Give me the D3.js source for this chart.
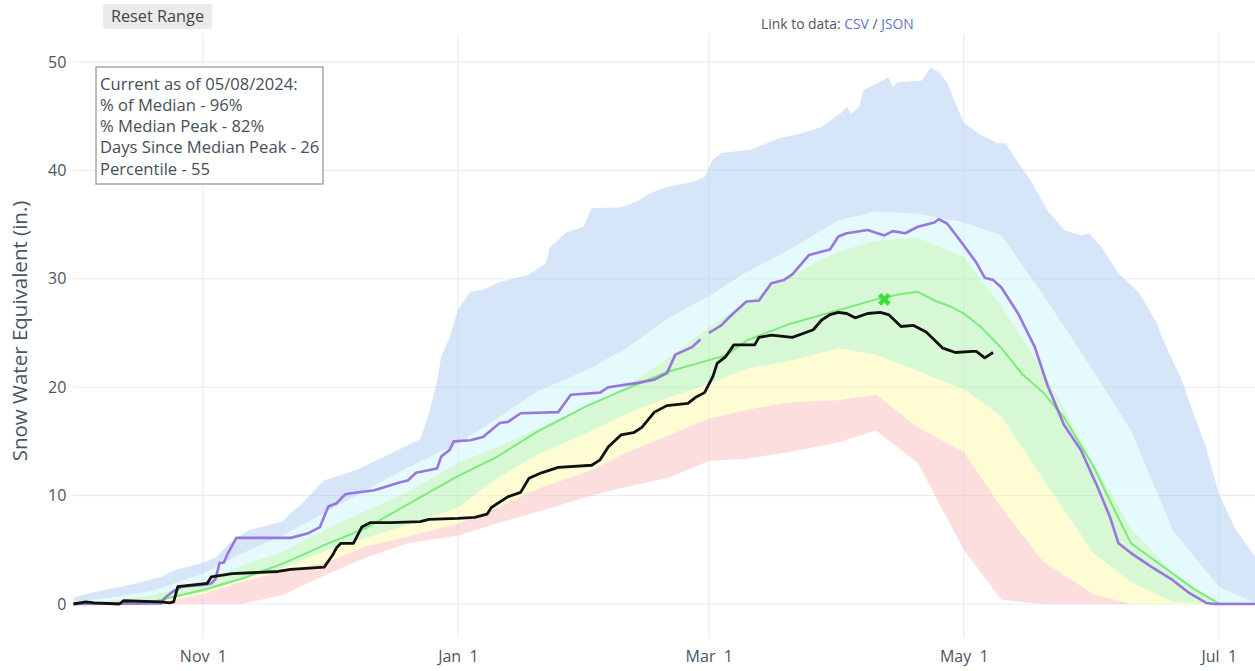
<!DOCTYPE html>
<html><head><meta charset="utf-8">
<script src="https://cdn.jsdelivr.net/npm/d3@7"></script>
<style>
body{margin:0;background:#fff;}
svg{display:block;font-family:"Open Sans",sans-serif;}
</style></head><body>
<svg id="chart" width="1255" height="671"></svg>
<script>
// ---------- DATA ----------
const bandDates = ["2023-10-01","2023-10-10","2023-10-20","2023-11-01","2023-11-10","2023-11-20","2023-12-01","2023-12-10","2023-12-20","2024-01-01","2024-01-10","2024-01-20","2024-02-01","2024-02-10","2024-02-20","2024-03-01","2024-03-10","2024-03-20","2024-04-01","2024-04-10","2024-04-20","2024-05-01","2024-05-10","2024-05-20","2024-06-01","2024-06-10","2024-06-20","2024-07-01","2024-07-10"];
const minValues = [0,0,0,0,0,0.8,2.8,4.3,5.6,6.3,7.4,8.5,9.9,10.8,11.6,13.2,13.4,14.0,14.9,16.0,13.0,5.0,0.4,0,0,0,0,0,0];
const p10Values = [0,0,0,0.9,2.0,3.0,3.9,5.3,6.2,7.4,8.8,10.6,12.2,13.9,15.5,17.1,17.9,18.6,18.8,19.3,16.3,14.0,8.9,3.9,0.9,0,0,0,0];
const p30Values = [0,0.1,0.2,1.1,2.2,3.3,5.0,6.1,7.3,8.9,11.5,13.8,15.8,17.5,19.0,20.3,21.7,22.4,23.6,23.0,21.5,19.8,17.3,11.5,4.7,2.0,0.2,0,0];
const p70Values = [0.1,0.3,0.8,1.9,3.5,4.8,7.0,8.6,10.3,13.0,14.4,16.2,18.2,20.0,22.6,25.5,27.8,30.2,32.5,33.5,33.8,32.0,27.5,21.5,13.0,7.0,2.8,0.1,0];
const p90Values = [0.2,0.6,1.2,2.8,4.6,6.3,8.6,10.5,12.6,14.8,17.0,19.6,21.6,23.5,26.3,28.4,30.6,32.6,35.4,36.2,36.0,35.2,34.0,28.5,21.5,16.0,6.8,1.6,0];

const maxDates = ["2023-10-01","2023-10-06","2023-10-14","2023-10-22","2023-10-25","2023-11-01","2023-11-04","2023-11-08","2023-11-12","2023-11-20","2023-11-22","2023-11-24","2023-11-30","2023-12-08","2023-12-16","2023-12-23","2023-12-25","2023-12-27","2023-12-28","2023-12-30","2024-01-01","2024-01-04","2024-01-07","2024-01-11","2024-01-18","2024-01-22","2024-01-23","2024-01-27","2024-01-31","2024-02-02","2024-02-09","2024-02-12","2024-02-16","2024-02-20","2024-02-26","2024-02-29","2024-03-02","2024-03-04","2024-03-11","2024-03-18","2024-03-23","2024-03-28","2024-04-02","2024-04-03","2024-04-04","2024-04-06","2024-04-07","2024-04-13","2024-04-14","2024-04-15","2024-04-21","2024-04-23","2024-04-25","2024-04-27","2024-04-29","2024-05-01","2024-05-05","2024-05-09","2024-05-11","2024-05-14","2024-05-17","2024-05-21","2024-05-25","2024-05-29","2024-05-31","2024-06-03","2024-06-07","2024-06-12","2024-06-16","2024-06-19","2024-06-22","2024-06-25","2024-06-28","2024-07-01","2024-07-05","2024-07-10"];
const maxValues = [0.6,1.1,1.7,2.5,3.1,3.8,4.3,5.8,6.8,7.6,8.4,9.0,11.4,12.4,13.9,15.2,17.5,20.5,22.8,24.6,27.2,28.8,29.0,29.7,30.4,31.4,32.9,34.3,34.8,36.5,36.6,37.0,37.9,38.5,38.9,39.4,41.0,41.6,41.9,43.0,43.4,44.0,45.4,45.9,45.2,45.9,47.4,48.6,47.7,48.1,48.3,49.5,49.1,48.1,46.2,44.4,43.3,42.5,42.5,40.7,39.1,36.3,34.5,34.0,34.2,32.9,30.5,28.7,26.0,23.2,20.8,17.5,14.4,10.2,6.9,4.2];

const medianDates = ["2023-10-01","2023-10-10","2023-10-20","2023-11-01","2023-11-10","2023-11-20","2023-12-01","2023-12-10","2023-12-20","2024-01-01","2024-01-10","2024-01-20","2024-02-01","2024-02-10","2024-02-20","2024-03-01","2024-03-05","2024-03-10","2024-03-20","2024-04-01","2024-04-10","2024-04-16","2024-04-20","2024-04-24","2024-04-28","2024-05-01","2024-05-05","2024-05-10","2024-05-15","2024-05-20","2024-05-25","2024-06-01","2024-06-05","2024-06-10","2024-06-15","2024-06-20","2024-06-25","2024-07-01","2024-07-10"];
const medianValues = [0,0.05,0.2,1.3,2.3,3.7,5.6,7.0,9.2,11.8,13.5,15.9,18.3,19.8,21.4,22.5,22.9,24.3,25.8,27.1,28.1,28.6,28.8,28.0,27.4,26.8,25.6,23.6,21.2,19.5,17.2,12.7,9.5,5.6,4.2,2.8,1.4,0.05,0];

const wy2024Dates = ["2023-10-01","2023-10-04","2023-10-06","2023-10-12","2023-10-13","2023-10-22","2023-10-24","2023-10-25","2023-10-26","2023-11-02","2023-11-03","2023-11-08","2023-11-19","2023-11-22","2023-11-30","2023-12-02","2023-12-03","2023-12-04","2023-12-07","2023-12-09","2023-12-11","2023-12-16","2023-12-23","2023-12-25","2024-01-01","2024-01-05","2024-01-08","2024-01-09","2024-01-13","2024-01-16","2024-01-18","2024-01-21","2024-01-25","2024-02-02","2024-02-04","2024-02-06","2024-02-09","2024-02-12","2024-02-14","2024-02-17","2024-02-20","2024-02-25","2024-02-27","2024-02-29","2024-03-02","2024-03-03","2024-03-05","2024-03-07","2024-03-12","2024-03-13","2024-03-16","2024-03-21","2024-03-26","2024-03-28","2024-03-30","2024-04-01","2024-04-03","2024-04-05","2024-04-08","2024-04-11","2024-04-13","2024-04-16","2024-04-19","2024-04-22","2024-04-26","2024-04-29","2024-05-03","2024-05-04","2024-05-06","2024-05-08"];
const wy2024Values = [0,0.2,0.1,0,0.3,0.2,0.1,0.2,1.6,1.9,2.5,2.8,3.0,3.2,3.4,4.5,5.2,5.6,5.6,7.1,7.5,7.5,7.6,7.8,7.9,8.0,8.3,8.9,9.9,10.3,11.6,12.1,12.6,12.8,13.3,14.5,15.6,15.8,16.3,17.7,18.3,18.5,19.1,19.5,21.0,22.2,22.8,23.9,23.9,24.6,24.8,24.6,25.3,26.2,26.7,26.9,26.8,26.4,26.8,26.9,26.7,25.6,25.7,25.1,23.6,23.2,23.3,23.3,22.7,23.2];

const purpleDates = ["2023-10-01","2023-10-22","2023-10-23","2023-10-25","2023-10-27","2023-11-02","2023-11-03","2023-11-04","2023-11-05","2023-11-06","2023-11-07","2023-11-09","2023-11-22","2023-11-26","2023-11-29","2023-12-01","2023-12-03","2023-12-05","2023-12-06","2023-12-12","2023-12-18","2023-12-20","2023-12-22","2023-12-27","2023-12-28","2023-12-30","2023-12-31","2024-01-04","2024-01-07","2024-01-11","2024-01-13","2024-01-16","2024-01-25","2024-01-28","2024-02-04","2024-02-06","2024-02-13","2024-02-17","2024-02-20","2024-02-22","2024-02-26","2024-02-28","2024-02-29","2024-03-01","2024-03-04","2024-03-06","2024-03-10","2024-03-13","2024-03-16","2024-03-19","2024-03-21","2024-03-25","2024-03-30","2024-04-01","2024-04-03","2024-04-08","2024-04-12","2024-04-14","2024-04-17","2024-04-20","2024-04-24","2024-04-25","2024-04-27","2024-04-30","2024-05-04","2024-05-06","2024-05-08","2024-05-10","2024-05-14","2024-05-18","2024-05-21","2024-05-25","2024-05-29","2024-06-02","2024-06-05","2024-06-07","2024-06-10","2024-06-15","2024-06-20","2024-06-24","2024-06-28","2024-06-30","2024-07-10"];
const purpleValues = [0,0.05,0.6,1.2,1.6,1.8,1.9,2.3,3.8,3.8,4.7,6.1,6.1,6.5,7.1,9.0,9.3,10.1,10.2,10.5,11.2,11.4,12.1,12.5,13.6,14.2,15.0,15.1,15.4,16.7,16.8,17.6,17.7,19.3,19.5,20.0,20.4,20.7,21.3,23.0,23.7,24.4,null,25.0,25.7,26.5,27.9,28.0,29.6,29.9,30.4,32.2,32.7,33.9,34.2,34.5,34.0,34.4,34.2,34.8,35.2,35.5,35.1,33.6,31.5,30.1,29.9,29.2,26.8,23.7,20.2,16.5,14.2,10.8,8.0,5.6,4.7,3.4,2.2,1.0,0.1,0,0];

const medianPeakDate = "2024-04-12";
const medianPeakValue = 28.1;

const yTicks = [0,10,20,30,40,50];
const xTickDates = ["2023-11-01","2024-01-01","2024-03-01","2024-05-01","2024-07-01"];
const xTickLabels = ["Nov  1","Jan  1","Mar  1","May  1","Jul  1"];
const infoLines = ["Current as of 05/08/2024:","% of Median - 96%","% Median Peak - 82%","Days Since Median Peak - 26","Percentile - 55"];
const yTitle = "Snow Water Equivalent (in.)";

// ---------- CHART ----------
const parse = d3.utcParse("%Y-%m-%d");
const svg = d3.select("#chart");
const L = 73.3, R = 1255, T = 34, B = 638;
const x = d3.scaleUtc().domain([parse("2023-10-01"), parse("2024-07-01")]).range([73.3, 1218.8]);
const y = d3.scaleLinear().domain([0, 50]).range([604, 62]);
const textCol = "#4a5563";

svg.append("defs").append("clipPath").attr("id","clip")
  .append("rect").attr("x",L).attr("y",T).attr("width",R-L).attr("height",B-T);

// grid
const grid = svg.append("g");
grid.selectAll(".hg").data(yTicks).join("line")
  .attr("x1",L).attr("x2",R).attr("y1",d=>y(d)).attr("y2",d=>y(d))
  .attr("stroke","#e6eaf0").attr("stroke-width",1);
grid.selectAll(".vg").data(xTickDates).join("line")
  .attr("x1",d=>x(parse(d))).attr("x2",d=>x(parse(d))).attr("y1",T).attr("y2",B)
  .attr("stroke","#e6eaf0").attr("stroke-width",1);

const pts = (dates, vals) => dates.map((d,i)=>({date:parse(d), v:vals[i]}));
const line = d3.line().defined(p=>p.v!=null).x(p=>x(p.date)).y(p=>y(p.v));
const bandPath = (up, lo) => line(up.concat(lo.slice().reverse())) + "Z";

const minP = pts(bandDates,minValues), p10P = pts(bandDates,p10Values),
      p30P = pts(bandDates,p30Values), p70P = pts(bandDates,p70Values),
      p90P = pts(bandDates,p90Values), maxP = pts(maxDates,maxValues);

const plotG = svg.append("g").attr("clip-path","url(#clip)");
const bands = [
  {up:maxP, lo:p90P, c:"rgb(173,205,241)"},
  {up:p90P, lo:p70P, c:"rgb(201,245,249)"},
  {up:p70P, lo:p30P, c:"rgb(173,241,169)"},
  {up:p30P, lo:p10P, c:"rgb(251,249,167)"},
  {up:p10P, lo:minP, c:"rgb(249,189,189)"}
];
bands.forEach(b=>{
  plotG.append("path").attr("d",bandPath(b.up,b.lo))
    .attr("fill",b.c).attr("fill-opacity",0.5).attr("stroke","none");
});

plotG.append("path").attr("d",line(pts(medianDates,medianValues)))
  .attr("fill","none").attr("stroke","#72e872").attr("stroke-width",2).attr("stroke-opacity",0.9);
plotG.append("path").attr("d",line(pts(purpleDates,purpleValues)))
  .attr("fill","none").attr("stroke","#9370db").attr("stroke-width",2.6).attr("stroke-linejoin","round").attr("stroke-opacity",0.95);
plotG.append("path").attr("d",line(pts(wy2024Dates,wy2024Values)))
  .attr("fill","none").attr("stroke","#111").attr("stroke-width",2.8).attr("stroke-linejoin","round");

plotG.append("path")
  .attr("d",d3.symbol().type(d3.symbolCross).size(100)())
  .attr("transform",`translate(${x(parse(medianPeakDate))},${y(medianPeakValue)}) rotate(45)`)
  .attr("fill","#3ddd3d");

// axes
const yAxis = svg.append("g").attr("transform",`translate(${L},0)`)
  .call(d3.axisLeft(y).tickValues(yTicks).tickSize(0).tickPadding(7));
yAxis.select(".domain").remove();
yAxis.selectAll("text").attr("font-size",16).attr("fill",textCol).attr("font-family","Open Sans");

const xAxis = svg.append("g").attr("transform",`translate(0,${B})`)
  .call(d3.axisBottom(x).tickValues(xTickDates.map(parse)).tickFormat((d,i)=>xTickLabels[i]).tickSize(0).tickPadding(13));
xAxis.select(".domain").remove();
xAxis.selectAll("text").attr("font-size",16).attr("fill",textCol).attr("font-family","Open Sans").style("white-space","pre");

svg.append("text").attr("transform","translate(19,331) rotate(-90)")
  .attr("text-anchor","middle").attr("dominant-baseline","central")
  .attr("font-size",20.5).attr("fill",textCol).text(yTitle);

// info box
svg.append("rect").attr("x",96).attr("y",67).attr("width",227).attr("height",117)
  .attr("fill","#fff").attr("stroke","#a6a6a6").attr("stroke-width",1.5);
svg.append("g").selectAll("text").data(infoLines).join("text")
  .attr("x",100).attr("y",(d,i)=>89.5+i*21.3).attr("font-size",16.6).attr("fill","#454e5a").text(d=>d);

// reset button
svg.append("rect").attr("x",103).attr("y",4).attr("width",109).attr("height",25).attr("rx",3)
  .attr("fill","#ebebeb");
svg.append("text").attr("x",157.5).attr("y",21.5).attr("text-anchor","middle")
  .attr("font-size",16.3).attr("fill","#444").text("Reset Range");

// link text
const link = svg.append("text").attr("x",761).attr("y",29).attr("font-size",13.9).attr("fill","#555");
link.append("tspan").text("Link to data: ");
link.append("tspan").attr("fill","#5b78c8").text("CSV");
link.append("tspan").text(" / ");
link.append("tspan").attr("fill","#5b78c8").text("JSON");
</script>
</body></html>
